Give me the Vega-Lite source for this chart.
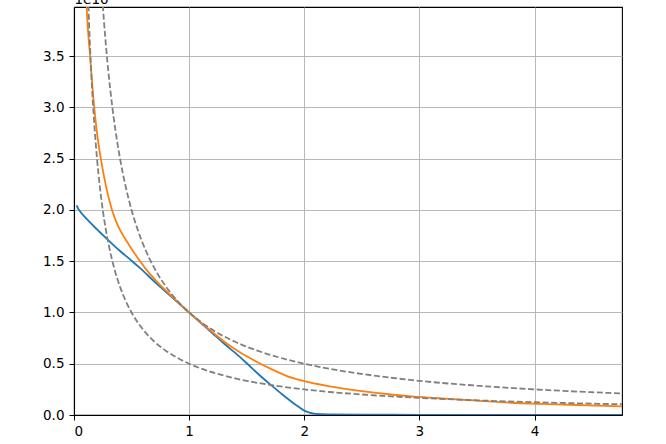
{
  "$schema": "https://vega.github.io/schema/vega-lite/v6.json",
  "width": 548,
  "height": 408,
  "autosize": {"type": "none"},
  "padding": {"left": 74, "top": 7, "right": 44, "bottom": 29},
  "background": "white",
  "config": {
    "view": {"stroke": "black", "strokeWidth": 1.1},
    "axis": {
      "labelFont": "DejaVu Sans",
      "labelFontSize": 13.5,
      "labelColor": "black",
      "tickColor": "black",
      "tickSize": 5,
      "tickWidth": 1,
      "domainColor": "black",
      "domainWidth": 1.1,
      "gridColor": "#b0b0b0",
      "gridWidth": 0.9,
      "titleFont": "DejaVu Sans",
      "titleFontSize": 13.5,
      "titleFontWeight": "normal",
      "titleColor": "black"
    }
  },
  "datasets": {
    "blue": [
      {"x": 0.023, "y": 2.045}, {"x": 0.035, "y": 2.015}, {"x": 0.05, "y": 1.99}, {"x": 0.1, "y": 1.925},
      {"x": 0.2, "y": 1.81}, {"x": 0.284, "y": 1.72}, {"x": 0.4, "y": 1.6}, {"x": 0.5, "y": 1.505},
      {"x": 0.574, "y": 1.433}, {"x": 0.7, "y": 1.3}, {"x": 0.8, "y": 1.2}, {"x": 0.9, "y": 1.1},
      {"x": 1.0, "y": 1.0}, {"x": 1.1, "y": 0.9}, {"x": 1.2, "y": 0.8}, {"x": 1.3, "y": 0.7},
      {"x": 1.433, "y": 0.574}, {"x": 1.505, "y": 0.5}, {"x": 1.6, "y": 0.4}, {"x": 1.72, "y": 0.284},
      {"x": 1.81, "y": 0.2}, {"x": 1.925, "y": 0.1}, {"x": 1.99, "y": 0.05}, {"x": 2.015, "y": 0.035},
      {"x": 2.045, "y": 0.023}, {"x": 2.1, "y": 0.01}, {"x": 2.2, "y": 0.005}, {"x": 2.5, "y": 0.003},
      {"x": 3.0, "y": 0.002}, {"x": 4.0, "y": 0.0015}, {"x": 4.8, "y": 0.001}
    ],
    "orange": [
      {"x": 0.1, "y": 4.3}, {"x": 0.11, "y": 3.98}, {"x": 0.14, "y": 3.5}, {"x": 0.176, "y": 3.0},
      {"x": 0.2, "y": 2.75}, {"x": 0.233, "y": 2.5}, {"x": 0.28, "y": 2.22}, {"x": 0.33, "y": 2.0},
      {"x": 0.38, "y": 1.85}, {"x": 0.45, "y": 1.71}, {"x": 0.53, "y": 1.57}, {"x": 0.62, "y": 1.43},
      {"x": 0.72, "y": 1.3}, {"x": 0.84, "y": 1.168}, {"x": 1.0, "y": 1.0},
      {"x": 1.168, "y": 0.84}, {"x": 1.3, "y": 0.72}, {"x": 1.43, "y": 0.62}, {"x": 1.57, "y": 0.53},
      {"x": 1.71, "y": 0.45}, {"x": 1.85, "y": 0.38}, {"x": 2.0, "y": 0.33}, {"x": 2.22, "y": 0.28},
      {"x": 2.5, "y": 0.233}, {"x": 2.75, "y": 0.2}, {"x": 3.0, "y": 0.176}, {"x": 3.5, "y": 0.14},
      {"x": 3.98, "y": 0.11}, {"x": 4.3, "y": 0.1}, {"x": 4.8, "y": 0.082}
    ],
    "upper": [
      {"x": 0.24, "y": 4.167}, {"x": 0.26, "y": 3.846}, {"x": 0.28, "y": 3.571}, {"x": 0.3, "y": 3.333},
      {"x": 0.33, "y": 3.03}, {"x": 0.36, "y": 2.778}, {"x": 0.4, "y": 2.5}, {"x": 0.45, "y": 2.222},
      {"x": 0.5, "y": 2.0}, {"x": 0.55, "y": 1.818}, {"x": 0.6, "y": 1.667}, {"x": 0.7, "y": 1.429},
      {"x": 0.8, "y": 1.25}, {"x": 0.9, "y": 1.111}, {"x": 1.0, "y": 1.0}, {"x": 1.2, "y": 0.833},
      {"x": 1.4, "y": 0.714}, {"x": 1.6, "y": 0.625}, {"x": 1.8, "y": 0.556}, {"x": 2.0, "y": 0.5},
      {"x": 2.3, "y": 0.435}, {"x": 2.6, "y": 0.385}, {"x": 3.0, "y": 0.333}, {"x": 3.5, "y": 0.286},
      {"x": 4.0, "y": 0.25}, {"x": 4.5, "y": 0.222}, {"x": 4.8, "y": 0.208}
    ],
    "lower": [
      {"x": 0.12, "y": 4.167}, {"x": 0.13, "y": 3.846}, {"x": 0.14, "y": 3.571}, {"x": 0.15, "y": 3.333},
      {"x": 0.165, "y": 3.03}, {"x": 0.18, "y": 2.778}, {"x": 0.2, "y": 2.5}, {"x": 0.225, "y": 2.222},
      {"x": 0.25, "y": 2.0}, {"x": 0.275, "y": 1.818}, {"x": 0.3, "y": 1.667}, {"x": 0.35, "y": 1.429},
      {"x": 0.4, "y": 1.25}, {"x": 0.45, "y": 1.111}, {"x": 0.5, "y": 1.0}, {"x": 0.6, "y": 0.833},
      {"x": 0.7, "y": 0.714}, {"x": 0.8, "y": 0.625}, {"x": 0.9, "y": 0.556}, {"x": 1.0, "y": 0.5},
      {"x": 1.15, "y": 0.435}, {"x": 1.3, "y": 0.385}, {"x": 1.5, "y": 0.333}, {"x": 1.75, "y": 0.286},
      {"x": 2.0, "y": 0.25}, {"x": 2.25, "y": 0.222}, {"x": 2.5, "y": 0.2}, {"x": 3.0, "y": 0.167},
      {"x": 3.5, "y": 0.143}, {"x": 4.0, "y": 0.125}, {"x": 4.5, "y": 0.111}, {"x": 4.8, "y": 0.104}
    ]
  },
  "encoding": {
    "x": {
      "field": "x", "type": "quantitative",
      "scale": {"domain": [0, 4.76], "nice": false, "zero": false},
      "axis": {"values": [0, 1, 2, 3, 4], "format": "d", "title": null, "grid": true, "labelPadding": 4}
    },
    "y": {
      "field": "y", "type": "quantitative",
      "scale": {"domain": [0, 3.98], "nice": false, "zero": false},
      "axis": {
        "values": [0, 0.5, 1, 1.5, 2, 2.5, 3, 3.5], "format": ".1f", "grid": true, "labelPadding": 5,
        "title": "1e10", "titleAngle": 0, "titleX": 0, "titleY": -4, "titleAlign": "left", "titleBaseline": "alphabetic"
      }
    },
    "order": {"field": "x", "type": "quantitative"}
  },
  "layer": [
    {"data": {"name": "blue"}, "mark": {"type": "line", "color": "#1f77b4", "strokeWidth": 1.8, "clip": true, "interpolate": "monotone"}},
    {"data": {"name": "orange"}, "mark": {"type": "line", "color": "#ff7f0e", "strokeWidth": 1.8, "clip": true, "interpolate": "monotone"}},
    {"data": {"name": "upper"}, "mark": {"type": "line", "color": "#808080", "strokeWidth": 1.8, "strokeDash": [6, 2.6], "clip": true, "interpolate": "monotone"}},
    {"data": {"name": "lower"}, "mark": {"type": "line", "color": "#808080", "strokeWidth": 1.8, "strokeDash": [6, 2.6], "clip": true, "interpolate": "monotone"}}
  ]
}
